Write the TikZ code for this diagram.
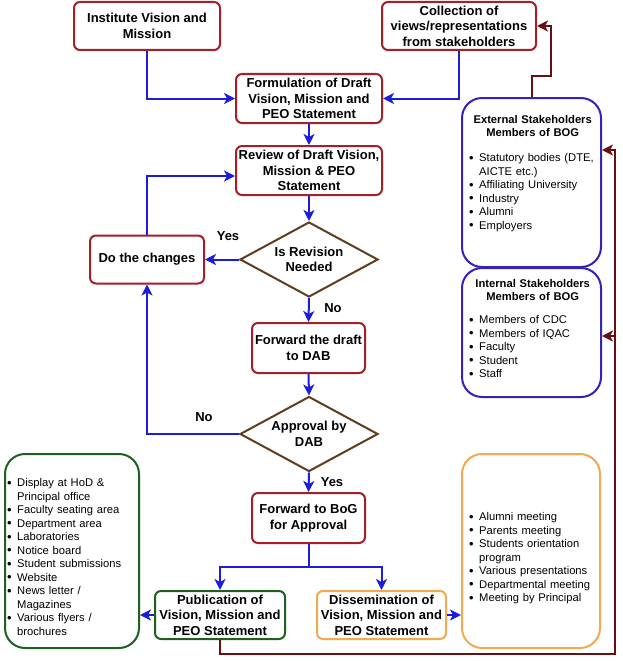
\documentclass[tikz,border=0pt]{standalone}
\usepackage{fontspec}
\setmainfont{Liberation Sans}
\usetikzlibrary{arrows.meta,shapes.geometric,calc}
\definecolor{boxred}{RGB}{165,30,40}
\definecolor{flowblue}{RGB}{28,28,220}
\definecolor{diabrown}{RGB}{95,62,30}
\definecolor{stkblue}{RGB}{52,34,186}
\definecolor{grnline}{RGB}{30,96,30}
\definecolor{orgline}{RGB}{240,170,80}
\definecolor{fbred}{RGB}{105,15,15}
\newcommand\nl{\hfil\break}
\newcommand\lstitem[1]{\par\hangindent=10pt\hangafter=1\noindent\makebox[10pt][l]{\fontsize{13}{10}\selectfont\raisebox{-0.3pt}{\textbullet}}#1}
\tikzset{
  procbox/.style={draw=boxred, line width=2pt, rounded corners=6pt, fill=white, align=center,
    font=\bfseries\fontsize{13}{15.5}\selectfont, inner sep=0pt},
  decision/.style={diamond, draw=diabrown, line width=2pt, aspect=1.84, minimum width=138pt,
    minimum height=75pt, inner sep=0pt, fill=white, align=center, font=\bfseries\fontsize{13}{15.5}\selectfont},
  listframe/.style={rounded corners=20pt, line width=2pt, fill=white, inner sep=0pt},
  listtext/.style={anchor=north west, inner sep=0pt, align=left, font=\fontsize{11.2}{13.5}\selectfont},
  flowarrow/.style={draw=flowblue, line width=2pt, -{Stealth[length=11pt,width=11pt,inset=3pt]}},
  flowline/.style={draw=flowblue, line width=2pt},
  fbarrow/.style={draw=fbred, line width=2pt, -{Stealth[length=11pt,width=11pt,inset=3pt]}},
  lbl/.style={font=\bfseries\fontsize{13}{15}\selectfont, inner sep=0pt},
}
\begin{document}
\begin{tikzpicture}[x=1pt,y=-1pt]
\fill[white] (0,0) rectangle (622,661);
\useasboundingbox (0,0) rectangle (622,661);

% process boxes
\node[procbox, minimum width=146pt, minimum height=48pt] (inst) at (147,26) {Institute Vision and\\Mission};
\node[procbox, minimum width=154pt, minimum height=48pt] (coll) at (459,26) {Collection of\\views/representations\\from stakeholders};
\node[procbox, minimum width=146pt, minimum height=49pt] (form) at (309,98.5) {Formulation of Draft\\Vision, Mission and\\PEO Statement};
\node[procbox, minimum width=146pt, minimum height=49pt] (rev) at (309,170.5) {Review of Draft Vision,\\Mission \& PEO\\Statement};
\node[decision] (dia1) at (309,259.5) {Is Revision\\Needed};
\node[procbox, minimum width=114pt, minimum height=48pt] (chg) at (147,259.5) {Do the changes};
\node[procbox, minimum width=113pt, minimum height=50pt] (fwd) at (308.5,348) {Forward the draft\\to DAB};
\node[decision] (dia2) at (309,434) {Approval by\\DAB};
\node[procbox, minimum width=113pt, minimum height=50pt] (bog) at (308.5,518) {Forward to BoG\\for Approval};
\node[procbox, draw=grnline, minimum width=130pt, minimum height=48pt] (pub) at (220,615) {Publication of\\Vision, Mission and\\PEO Statement};
\node[procbox, draw=orgline, minimum width=129pt, minimum height=48pt] (dis) at (381.5,615) {Dissemination of\\Vision, Mission and\\PEO Statement};

% list frames
\node[listframe, draw=stkblue, minimum width=139pt, minimum height=169pt] (ext) at (531.5,182.5) {};
\node[listframe, draw=stkblue, minimum width=139pt, minimum height=129pt] (int) at (531.5,332.5) {};
\node[listframe, draw=grnline, minimum width=134pt, minimum height=194pt] (grn) at (72,551) {};
\node[listframe, draw=orgline, minimum width=138pt, minimum height=194pt] (org) at (531,551) {};

% list texts
\node[listtext, text width=127pt] (extT) at (469,115) {%
{\centering\bfseries External Stakeholders\\Members of BOG\par}\vspace{11.5pt}%
\lstitem{Statutory bodies (DTE,\nl AICTE etc.)}%
\lstitem{Affiliating University}%
\lstitem{Industry}%
\lstitem{Alumni}%
\lstitem{Employers}\par};
\node[listtext, text width=127pt] (intT) at (469,279) {%
{\centering\bfseries Internal Stakeholders\\Members of BOG\par}\vspace{9.5pt}%
\lstitem{Members of CDC}%
\lstitem{Members of IQAC}%
\lstitem{Faculty}%
\lstitem{Student}%
\lstitem{Staff}\par};
\node[listtext, text width=130pt] (grnT) at (7,473) {%
\lstitem{Display at HoD \&\nl Principal office}%
\lstitem{Faculty seating area}%
\lstitem{Department area}%
\lstitem{Laboratories}%
\lstitem{Notice board}%
\lstitem{Student submissions}%
\lstitem{Website}%
\lstitem{News letter /\nl Magazines}%
\lstitem{Various flyers /\nl brochures}\par};
\node[listtext, text width=128pt] (orgT) at (469,507) {%
\lstitem{Alumni meeting}%
\lstitem{Parents meeting}%
\lstitem{Students orientation\nl program}%
\lstitem{Various presentations}%
\lstitem{Departmental meeting}%
\lstitem{Meeting by Principal}\par};

% labels
\node[lbl] (yes1) at (228,236) {Yes};
\node[lbl] (no1) at (333,308) {No};
\node[lbl] (no2) at (204,417) {No};
\node[lbl] (yes2) at (332,482) {Yes};

% main flow
\draw[flowarrow] (inst.south) |- (form.west);
\draw[flowarrow] (coll.south) |- (form.east);
\draw[flowarrow] (form.south) -- (rev.north);
\draw[flowarrow] (rev.south) -- (dia1.north);
\draw[flowarrow] (dia1.west) -- (chg.east);
\coordinate (revin) at ($(rev.west)+(0,5.5)$);
\draw[flowarrow] (chg.north) |- (revin);
\draw[flowarrow] (dia1.south) -- (fwd.north);
\draw[flowarrow] (fwd.south) -- (dia2.north);
\draw[flowarrow] (dia2.west) -| (chg.south);
\draw[flowarrow] (dia2.south) -- (bog.north);
\coordinate (split) at (308.5,567);
\draw[flowline] (bog.south) -- (split);
\draw[flowarrow] (split) -| (pub.north);
\draw[flowarrow] (split) -| (dis.north);
\draw[flowarrow] (pub.west) -- (pub.west -| grn.east);
\draw[flowarrow] (dis.east) -- (dis.east -| org.west);

% feedback connectors
\coordinate (fbR) at (615,654);
\coordinate (fbTop) at (615,150);
\coordinate (fbMid) at (615,336);
\draw[fbarrow] (pub.south) |- (fbR) -- (fbTop) -- (fbTop -| ext.east);
\draw[fbarrow] (fbMid) -- (fbMid -| int.east);
\coordinate (knee) at (551,76);
\draw[fbarrow] (ext.north) |- (knee) |- (coll.east);
\end{tikzpicture}
\end{document}
